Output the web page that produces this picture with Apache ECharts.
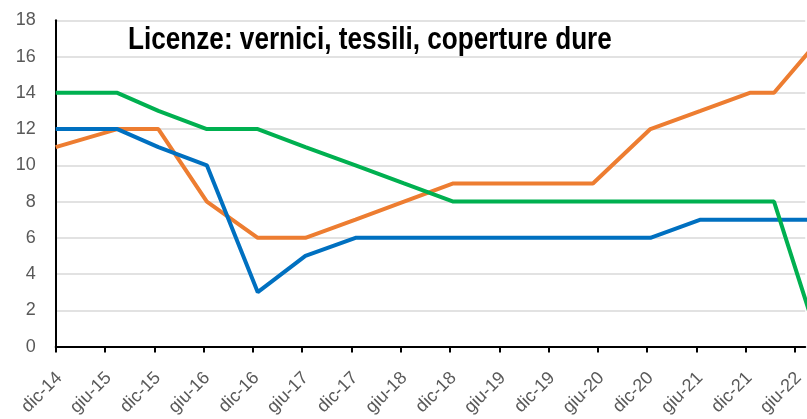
<!DOCTYPE html>
<html>
<head>
<meta charset="utf-8">
<script src="https://cdn.jsdelivr.net/npm/echarts@6/dist/echarts.min.js"></script>
<style>
html,body{margin:0;padding:0;overflow:hidden;background:#fff;}
#c{width:807px;height:419px;}
</style>
</head>
<body>
<div id="c"></div>
<script>
// months elapsed since dic-14 for each observation
var months = [0, 7.5, 12.5, 18.4, 24.6, 30.4, 36.5, 42.4, 48.4, 54.4, 60.4, 65.4, 72.4, 78.5, 84.5, 87.45, 93.1];
var blue   = [12, 12, 11, 10, 3, 5, 6, 6, 6, 6, 6, 6, 6, 7, 7, 7, 7];
var orange = [11, 12, 12, 8, 6, 6, 7, 8, 9, 9, 9, 9, 12, 13, 14, 14, 17];
var green  = [14, 14, 13, 12, 12, 11, 10, 9, 8, 8, 8, 8, 8, 8, 8, 8, 0];
var tickLabels = ["dic-14","giu-15","dic-15","giu-16","dic-16","giu-17","dic-17","giu-18","dic-18","giu-19","dic-19","giu-20","dic-20","giu-21","dic-21","giu-22"];
var titleText = "Licenze: vernici, tessili, coperture dure";

function pairs(vals){ return months.map(function(m,i){ return [m, vals[i]]; }); }

var chart = echarts.init(document.getElementById('c'), null, {renderer:'canvas'});
var font = "'Liberation Sans', Arial, sans-serif";
chart.setOption({
  animation:false,
  graphic:[{
    type:'text', x:128, y:24, scaleX:0.817, z:10,
    style:{text:titleText, font:"bold 32px 'Liberation Sans', Arial, sans-serif", fill:'#000', textAlign:'left', textVerticalAlign:'top'}
  }],
  grid:{left:55.7, top:20.3, bottom:65.7, right:0},
  xAxis:{
    type:'value', min:0, max:91.25, interval:6,
    axisLine:{show:true, lineStyle:{color:'#000', width:2}},
    axisTick:{show:true, length:6, lineStyle:{color:'#000', width:2}},
    splitLine:{show:false},
    axisLabel:{
      rotate:45, margin:25, color:'#595959', fontSize:18, fontFamily:font,
      verticalAlign:'top', lineHeight:10,
      showMaxLabel:false,
      formatter:function(v){ var k=Math.round(v/6); return (Math.abs(v-k*6)<1e-6 && tickLabels[k])?tickLabels[k]:''; }
    }
  },
  yAxis:{
    type:'value', min:0, max:18, interval:2,
    axisLine:{show:true, lineStyle:{color:'#000', width:2}},
    axisTick:{show:false},
    splitLine:{show:true, lineStyle:{color:'#d9d9d9', width:1.5}},
    axisLabel:{margin:20, color:'#595959', fontSize:18, fontFamily:font}
  },
  series:[
    {type:'line', data:pairs(orange), showSymbol:false, clip:true, lineStyle:{color:'#ED7D31', width:4}, itemStyle:{color:'#ED7D31'}},
    {type:'line', data:pairs(blue), showSymbol:false, clip:true, lineStyle:{color:'#0070C0', width:4}, itemStyle:{color:'#0070C0'}},
    {type:'line', data:pairs(green), showSymbol:false, clip:true, lineStyle:{color:'#00B050', width:4}, itemStyle:{color:'#00B050'}}
  ]
});
</script>
</body>
</html>
